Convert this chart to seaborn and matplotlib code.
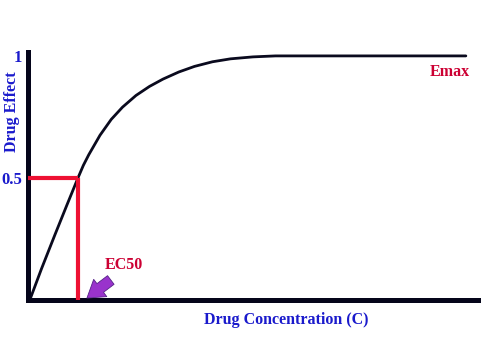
import matplotlib
matplotlib.use("Agg")
import matplotlib.pyplot as plt
import seaborn as sns
import pandas as pd

# Dose-response curve (concentration in arbitrary units, effect as fraction of Emax)
conc = [0.04, 0.3, 0.6, 0.86, 1.11, 1.23, 1.35, 1.6, 1.85, 2.1, 2.4, 2.7, 3.0, 3.35,
        3.7, 4.1, 4.5, 5.0, 5.5, 9.73]
effect = [0.0, 0.128, 0.268, 0.387, 0.5, 0.5516, 0.595, 0.675, 0.74, 0.79, 0.838, 0.875,
          0.905, 0.934, 0.957, 0.976, 0.988, 0.996, 1.0, 1.0]
ec50_conc = 1.11
ec50_effect = 0.5
ytick_vals = [0.5, 1]
ytick_labels = ["0.5", "1"]

sns.set_theme(style="white")
plt.rcParams["font.family"] = ["Liberation Serif", "DejaVu Serif"]

blue = "#1a1acc"
crimson = "#cc0033"
red = "#ee1133"
purple = "#9933cc"

fig = plt.figure(figsize=(4.98, 3.42), dpi=100)
ax = fig.add_axes([28 / 498, 42 / 342, 450 / 498, 248 / 342])

df = pd.DataFrame({"conc": conc, "effect": effect})
sns.lineplot(data=df, x="conc", y="effect", ax=ax, color="#0a0a1e", linewidth=2.0, sort=True,
             solid_joinstyle="round", solid_capstyle="round")

# EC50 guide lines
ax.plot([0, ec50_conc], [ec50_effect, ec50_effect], color=red, linewidth=3.0, solid_capstyle="butt", zorder=3)
ax.plot([ec50_conc, ec50_conc], [0, ec50_effect], color=red, linewidth=3.0, solid_capstyle="butt", zorder=3)

ax.set_xlim(0, 10)
ax.set_ylim(0, 1.016)
ax.set_xticks([])
ax.set_yticks(ytick_vals)
ax.set_yticklabels(ytick_labels)
ax.tick_params(axis="y", length=0, pad=4, labelsize=12, labelcolor=blue)
for lab in ax.get_yticklabels():
    lab.set_fontweight("bold")
ax.set_xlabel("")
ax.set_ylabel("")

for side in ["top", "right"]:
    ax.spines[side].set_visible(False)
for side in ["left", "bottom"]:
    ax.spines[side].set_visible(True)
    ax.spines[side].set_color("#05051a")
    ax.spines[side].set_linewidth(3.6)

ax.text(9.82, 0.934, "Emax", color=crimson, fontsize=11.5, fontweight="bold", ha="right", va="center")
ax.text(1.71, 0.143, "EC50", color=crimson, fontsize=11.5, fontweight="bold", ha="left", va="center")
ax.annotate("", xy=(1.31, 0.008), xytext=(1.84, 0.082),
            arrowprops=dict(arrowstyle="simple,head_width=1.3,head_length=1.0,tail_width=0.65",
                            facecolor=purple, edgecolor="#552288", linewidth=0.6,
                            shrinkA=0, shrinkB=0))

fig.text(12 / 498, 1 - 112 / 342, "Drug Effect", rotation=90, color=blue, fontsize=11.5,
         fontweight="bold", ha="center", va="center")
fig.text(286 / 498, 1 - 320 / 342, "Drug Concentration (C)", color=blue, fontsize=11.5,
         fontweight="bold", ha="center", va="center")

fig.savefig("out.png", dpi=100, facecolor="white")
